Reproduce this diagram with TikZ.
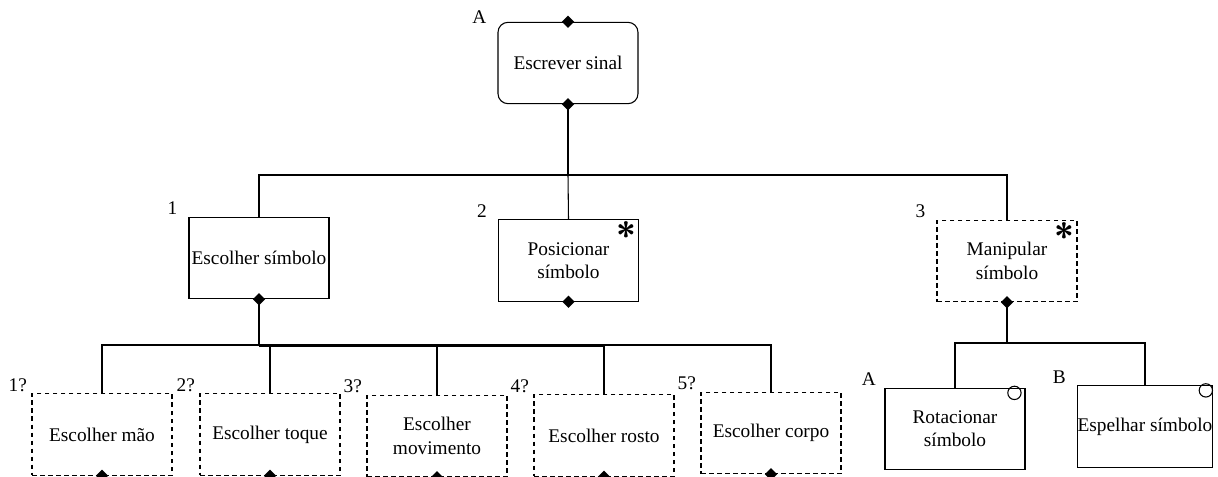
\documentclass[tikz,border=0pt]{standalone}
\usepackage{fontspec}
\setmainfont{Liberation Serif}
\usetikzlibrary{shapes.geometric}
\newcommand{\tasksize}{\fontsize{14.5}{17.5}\selectfont}

\tikzset{
  tasknode/.style={draw, minimum width=105pt, minimum height=61pt, inner sep=1pt,
                   align=center, font=\tasksize},
  optnode/.style={tasknode, dash pattern=on 3.5pt off 2.5pt},
  joint/.style={diamond, fill=black, inner sep=0pt, minimum size=9.5pt},
  numtag/.style={anchor=base east, inner sep=0pt, font=\tasksize, xshift=-8pt, yshift=1.5pt},
  repmark/.style={anchor=north east, inner sep=0pt, font=\fontsize{27}{27}\sffamily\bfseries},
  selmark/.style={circle, draw, inner sep=0pt, minimum size=10pt, anchor=north east}
}

\begin{document}
\begin{tikzpicture}[x=0.75pt, y=-0.75pt, line width=0.8pt]
  \useasboundingbox (0,0) rectangle (1218,477);

  % task boxes
  \node[tasknode, rounded corners=7.5pt] (sinal) at (568,63) {Escrever sinal};
  \node[tasknode] (escolher) at (259,258) {Escolher símbolo};
  \node[tasknode] (posicionar) at (568.5,260.5) {Posicionar\\símbolo};
  \node[optnode] (manipular) at (1007,261) {Manipular\\símbolo};

  \node[optnode] (mao) at (102,434.5) {Escolher mão};
  \node[optnode] (toque) at (270,434.5) {Escolher toque};
  \node[optnode] (movimento) at (437,436) {Escolher\\movimento};
  \node[optnode] (rosto) at (604,435.5) {Escolher rosto};
  \node[optnode] (corpo) at (771,433) {Escolher corpo};

  \node[tasknode] (rotacionar) at (955,429) {Rotacionar\\símbolo};
  \node[tasknode, minimum width=100pt, inner xsep=0pt] (espelhar) at (1145,426.5) {Espelhar símbolo};

  % connectors
  \coordinate (j0) at (568,175);
  \draw (sinal.south) -- (j0);
  \draw (escolher.north) |- (j0) -| (manipular.north);
  \draw (j0) -- (posicionar.north);

  \coordinate (j1) at (259,345);
  \draw (escolher.south) -- (j1);
  \foreach \c in {mao,toque,movimento,rosto,corpo}
    \draw (j1) -| (\c.north);
  \draw[line width=1.6pt] ([yshift=-0.6pt]j1) -- ([yshift=-0.6pt]j1 -| rosto.north);

  \coordinate (j2) at (1007,343);
  \draw (manipular.south) -- (j2);
  \foreach \c in {rotacionar,espelhar}
    \draw (j2) -| (\c.north);

  % diamonds on the boxes
  \foreach \p [count=\i] in {sinal.north,sinal.south,escolher.south,posicionar.south,
      manipular.south,mao.south,toque.south,movimento.south,rosto.south,corpo.south}
    \node[joint] (dm\i) at (\p) {};

  % repeat and selection marks
  \node[repmark] (rp1) at ([xshift=-2pt,yshift=-1.5pt]posicionar.north east) {*};
  \node[repmark] (rp2) at ([xshift=-2pt,yshift=-1.5pt]manipular.north east) {*};
  \node[selmark] (sl1) at ([xshift=-4.5pt]rotacionar.north east) {};
  \node[selmark] (sl2) at ([xshift=-1.5pt]espelhar.north east) {};

  % numbering
  \node[numtag, yshift=-3pt] (nA) at (sinal.north west) {A};
  \node[numtag] (n1) at (escolher.north west) {1};
  \node[numtag] (n2) at (posicionar.north west) {2};
  \node[numtag] (n3) at (manipular.north west) {3};
  \foreach \c [count=\i] in {mao,toque,movimento,rosto,corpo}
    \node[numtag, xshift=5pt] (q\i) at (\c.north west) {\i?};
  \node[numtag, xshift=2pt] (nRA) at (rotacionar.north west) {A};
  \node[numtag] (nRB) at (espelhar.north west) {B};
\end{tikzpicture}
\end{document}
